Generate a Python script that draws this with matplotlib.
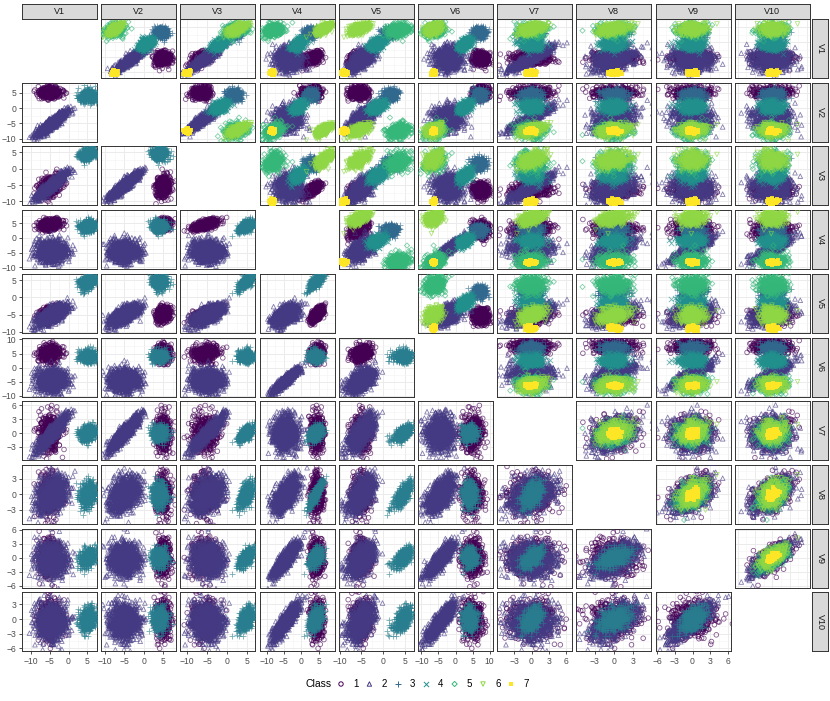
import numpy as np
import matplotlib
matplotlib.use("Agg")
import matplotlib.pyplot as plt

plt.rcParams['font.family'] = ['Liberation Sans', 'DejaVu Sans']

# ---------------- data (cluster summaries) ----------------
VARS = ["V1", "V2", "V3", "V4", "V5", "V6", "V7", "V8", "V9", "V10"]
CLASSES = ["1", "2", "3", "4", "5", "6", "7"]
CLASS_COLORS = ["#440154", "#443A83", "#31688E", "#21908C", "#35B779", "#8FD744", "#FDE725"]
LOWER_COLORS = ["#440154", "#443A83", "#287D8E"]
CLASS_MARKERS = ["o", "^", "+", "x", "D", "v", "s"]

# lower triangle: 3-class data
LOW_N = [500, 1000, 500]
LOW_MEAN = [
    [-5.0, 5.0, -5.5, 4.5, -5.0, 5.0, 0.0, 0.0, 0.0, 0.0],
    [-4.5, -5.0, -5.0, -4.5, -5.0, -4.5, 0.0, 0.0, -0.3, -0.5],
    [5.0, 4.0, 4.5, 4.0, 4.5, 4.0, 0.0, 0.0, 0.0, 0.0],
]
LOW_SD = [
    [1.3, 0.9, 1.6, 1.0, 1.2, 1.5, 1.9, 1.9, 1.9, 1.9],
    [2.0, 2.0, 2.0, 1.8, 1.5, 2.0, 1.9, 1.7, 1.8, 1.8],
    [1.0, 1.0, 0.9, 1.0, 1.0, 1.1, 0.8, 1.2, 1.0, 1.2],
]
LOW_LOAD_A = [
    [0.3, 0.2, 0.8, 0.8, 0.8, 0.2, 0.0, 0.0, 0.0, 0.0],
    [0.95, 0.95, 0.95, 0.0, 0.7, 0.0, 0.95, 0.4, 0.0, 0.0],
    [0.3, 0.0, 0.8, 0.5, 0.8, 0.0, 0.7, 0.6, 0.7, 0.6],
]
LOW_LOAD_B = [
    [0.0, 0.0, 0.0, 0.0, 0.0, 0.0, 0.0, 0.0, 0.2, 0.2],
    [0.0, 0.0, 0.0, 0.95, 0.5, 0.95, 0.0, 0.6, 0.9, 0.9],
    [0.0, 0.0, 0.0, 0.8, 0.3, 0.0, 0.0, 0.7, 0.0, 0.0],
]

# upper triangle: 7-class data
UP_N = [400, 800, 400, 400, 400, 400, 150]
UP_MEAN = [
    [-5.5, 5.0, -6.5, 3.0, -5.5, 7.5, 0.0, 0.0, 0.0, 0.0],
    [-5.3, -3.0, -5.5, -3.5, -4.8, -2.0, 0.0, 0.0, 0.0, 0.0],
    [3.3, 4.3, 1.5, 2.8, 1.5, 7.0, 0.0, 0.0, 0.0, 0.0],
    [-0.5, 0.5, -2.0, -1.0, -1.5, 2.6, 0.0, 0.0, 0.0, 0.0],
    [4.0, -7.5, 2.0, -8.0, 3.5, -6.2, 0.0, 0.0, 0.0, 0.0],
    [4.3, -7.4, 2.5, 6.5, -5.5, -6.5, 0.0, 0.0, 0.0, 0.0],
    [-10.3, -7.6, -10.0, -8.3, -9.0, -6.3, 0.0, 0.0, 0.0, 0.0],
]
UP_SD = [
    [1.2, 1.0, 1.2, 1.5, 1.2, 1.3, 1.7, 1.7, 1.7, 1.7],
    [2.0, 2.0, 2.0, 1.8, 1.5, 2.0, 1.8, 1.6, 1.6, 1.6],
    [1.0, 1.0, 1.0, 1.0, 1.0, 1.0, 1.0, 1.0, 1.0, 1.0],
    [1.0, 1.0, 1.0, 1.0, 1.0, 1.0, 1.0, 1.0, 1.0, 1.0],
    [1.2, 1.2, 1.3, 1.3, 1.3, 1.5, 1.2, 1.3, 1.2, 1.2],
    [1.0, 1.0, 1.2, 1.2, 1.2, 1.2, 1.1, 1.2, 1.1, 1.1],
    [0.35, 0.35, 0.35, 0.35, 0.35, 0.35, 0.45, 0.45, 0.45, 0.45],
]
UP_LOAD_A = [
    [0.6, 0.0, 0.8, 0.85, 0.6, 0.0, 0.0, 0.0, 0.0, 0.0],
    [0.95, 0.95, 0.95, 0.0, 0.7, 0.0, 0.95, 0.4, 0.0, 0.0],
    [0.2, 0.2, 0.2, 0.2, 0.2, 0.2, 0.0, 0.0, 0.0, 0.0],
    [0.7, 0.7, 0.7, 0.7, 0.7, 0.7, 0.0, 0.0, 0.0, 0.0],
    [0.5, 0.5, 0.5, 0.5, 0.5, 0.5, 0.0, 0.0, 0.0, 0.0],
    [0.8, 0.8, 0.8, 0.8, 0.7, 0.5, 0.6, 0.4, 0.0, 0.0],
    [0.0, 0.0, 0.0, 0.0, 0.0, 0.0, 0.0, 0.0, 0.0, 0.0],
]
UP_LOAD_B = [
    [0.0, 0.0, 0.0, 0.0, 0.0, 0.0, 0.2, 0.5, 0.8, 0.8],
    [0.0, 0.0, 0.0, 0.95, 0.5, 0.95, 0.0, 0.6, 0.9, 0.9],
    [0.0, 0.0, 0.0, 0.0, 0.0, 0.0, 0.2, 0.5, 0.8, 0.8],
    [0.0, 0.0, 0.0, 0.0, 0.0, 0.0, 0.2, 0.5, 0.8, 0.8],
    [0.0, 0.0, 0.0, 0.0, 0.0, 0.0, 0.2, 0.5, 0.8, 0.8],
    [0.0, 0.0, 0.0, 0.0, 0.0, 0.0, 0.2, 0.5, 0.8, 0.8],
    [0.0, 0.0, 0.0, 0.0, 0.0, 0.0, 0.2, 0.5, 0.8, 0.8],
]

# axis ranges per variable (columns = x of that variable, rows = y)
COL_LIM = [(-12.4, 7.6), (-11.0, 8.4), (-11.7, 7.0), (-12.0, 9.6), (-10.2, 7.1),
           (-11.0, 11.0), (-5.9, 7.0), (-5.9, 5.9), (-6.3, 6.5), (-6.5, 6.5)]
ROW_LIM = [(-12.0, 7.8), (-11.0, 8.3), (-11.2, 6.8), (-10.6, 9.5), (-10.3, 6.8),
           (-10.3, 10.7), (-5.9, 6.9), (-5.7, 5.7), (-6.4, 6.2), (-6.6, 5.5)]
BREAKS = {
    "wide": [-10, -5, 0, 5, 10],
    "narrow": [-6, -3, 0, 3, 6],
}


def simulate(n, mean, sd, la, lb, seed):
    rng = np.random.default_rng(seed)
    mean, sd, la, lb = map(np.asarray, (mean, sd, la, lb))
    f1 = rng.standard_normal((n, 1))
    f2 = rng.standard_normal((n, 1))
    e = rng.standard_normal((n, len(mean)))
    resid = np.sqrt(np.clip(1 - la ** 2 - lb ** 2, 0.03, None))
    return mean + sd * (f1 * la + f2 * lb + e * resid)


lower = [simulate(LOW_N[k], LOW_MEAN[k], LOW_SD[k], LOW_LOAD_A[k], LOW_LOAD_B[k], 11 + k)
         for k in range(3)]
upper = [simulate(UP_N[k], UP_MEAN[k], UP_SD[k], UP_LOAD_A[k], UP_LOAD_B[k], 101 + k)
         for k in range(7)]

# ---------------- layout ----------------
W, H = 830, 701
fig = plt.figure(figsize=(W / 100, H / 100), dpi=100)


def rect(x, y, w, h):
    return [x / W, 1 - (y + h) / H, w / W, h / H]


L0, PW, PX = 22, 75, 79.2
T0, PH, PY = 19, 59, 63.7
BORDER = "#333333"
ALPHA = 0.65


def breaks_for(lim):
    b = BREAKS["wide"] if (lim[1] - lim[0]) > 14 else BREAKS["narrow"]
    major = [v for v in b if lim[0] <= v <= lim[1]]
    step = b[1] - b[0]
    minor = [v + step / 2 for v in [b[0] - step] + b]
    minor = [v for v in minor if lim[0] <= v <= lim[1]]
    return major, minor


def draw_class(ax, xy, color, marker):
    if marker in ("+", "x"):
        ax.scatter(xy[0], xy[1], s=14, marker=marker, c=color, linewidths=0.6,
                   alpha=ALPHA, zorder=3)
    elif marker == "s":
        ax.scatter(xy[0], xy[1], s=10, marker=marker, c=color, linewidths=0,
                   alpha=0.9, zorder=3)
    else:
        ax.scatter(xy[0], xy[1], s=11 if marker != "D" else 7, marker=marker,
                   facecolors="none", edgecolors=color, linewidths=0.6,
                   alpha=ALPHA, zorder=3)


for i in range(10):
    for j in range(10):
        if i == j:
            continue
        ax = fig.add_axes(rect(L0 + j * PX, T0 + i * PY, PW, PH))
        ax.set_facecolor("white")
        if i > j:
            for k, d in enumerate(lower):
                draw_class(ax, (d[:, j], d[:, i]), LOWER_COLORS[k], CLASS_MARKERS[k])
        else:
            for k, d in enumerate(upper):
                draw_class(ax, (d[:, j], d[:, i]), CLASS_COLORS[k], CLASS_MARKERS[k])
        ax.set_xlim(COL_LIM[j])
        ax.set_ylim(ROW_LIM[i])
        xmaj, xmin = breaks_for(COL_LIM[j])
        ymaj, ymin = breaks_for(ROW_LIM[i])
        ax.set_xticks(xmaj)
        ax.set_xticks(xmin, minor=True)
        ax.set_yticks(ymaj)
        ax.set_yticks(ymin, minor=True)
        ax.grid(True, which="major", color="#EBEBEB", linewidth=0.7, zorder=0)
        ax.grid(True, which="minor", color="#F4F4F4", linewidth=0.4, zorder=0)
        ax.set_axisbelow(True)
        ax.tick_params(which="minor", length=0)
        ax.tick_params(which="major", colors=BORDER, labelcolor="#4D4D4D",
                       labelsize=6.2, length=2.5, width=0.6, pad=1.5)
        ax.tick_params(axis="x", bottom=(i == 9), labelbottom=(i == 9))
        ax.tick_params(axis="y", left=(j == 0), labelleft=(j == 0))
        for s in ax.spines.values():
            s.set_color(BORDER)
            s.set_linewidth(0.7)

# strips
for j in range(10):
    sax = fig.add_axes(rect(L0 + j * PX, 4, PW, 14.5))
    sax.set_facecolor("#D9D9D9")
    sax.set_xticks([]); sax.set_yticks([])
    for s in sax.spines.values():
        s.set_color(BORDER); s.set_linewidth(0.7)
    sax.text(0.5, 0.5, VARS[j], ha="center", va="center", fontsize=6.5,
             color="#1A1A1A", transform=sax.transAxes)

for i in range(10):
    sax = fig.add_axes(rect(812, T0 + i * PY, 16, PH))
    sax.set_facecolor("#D9D9D9")
    sax.set_xticks([]); sax.set_yticks([])
    for s in sax.spines.values():
        s.set_color(BORDER); s.set_linewidth(0.7)
    sax.text(0.5, 0.5, VARS[i], ha="center", va="center", fontsize=6.5,
             rotation=-90, color="#1A1A1A", transform=sax.transAxes)

# legend
lax = fig.add_axes([0, 0, 1, 1])
lax.set_xlim(0, W)
lax.set_ylim(H, 0)
lax.axis("off")
LEG_Y = 684
lax.text(305, LEG_Y, "Class", ha="left", va="center", fontsize=7.5, color="black")
x0 = 341
for k in range(7):
    xm = x0 + k * 28.4
    m = CLASS_MARKERS[k]
    if m in ("+", "x"):
        lax.scatter([xm], [LEG_Y], s=14, marker=m, c=CLASS_COLORS[k], linewidths=0.7)
    elif m == "s":
        lax.scatter([xm], [LEG_Y], s=11, marker=m, c=CLASS_COLORS[k], linewidths=0)
    else:
        lax.scatter([xm], [LEG_Y], s=10 if m != "D" else 7, marker=m, facecolors="none",
                    edgecolors=CLASS_COLORS[k], linewidths=0.7)
    lax.text(xm + 12, LEG_Y, CLASSES[k], ha="left", va="center", fontsize=7, color="black")

fig.savefig("out.png", dpi=100)
